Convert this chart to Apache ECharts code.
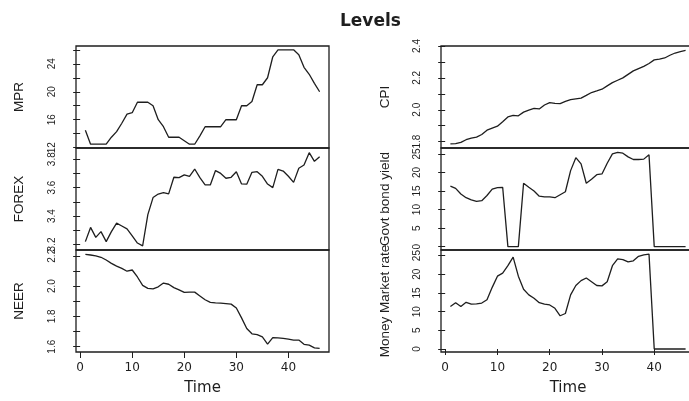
<!DOCTYPE html>
<html>
<head>
<meta charset="utf-8">
<script src="https://cdn.jsdelivr.net/npm/echarts@6/dist/echarts.min.js"></script>
<style>
  html, body { margin: 0; padding: 0; background: #fff; }
  #chart { width: 689px; height: 401px; }
</style>
</head>
<body>
<div id="chart"></div>
<script>
// quarterly index 1..46
const time = [1, 2, 3, 4, 5, 6, 7, 8, 9, 10, 11, 12, 13, 14, 15, 16, 17, 18, 19, 20, 21, 22, 23,
  24, 25, 26, 27, 28, 29, 30, 31, 32, 33, 34, 35, 36, 37, 38, 39, 40, 41, 42, 43, 44, 45, 46];

const mpr = [14.5, 12.5, 12.5, 12.5, 12.5, 13.5, 14.3, 15.5, 16.8, 17, 18.5, 18.5, 18.5, 18, 16, 15,
  13.5, 13.5, 13.5, 13, 12.5, 12.5, 13.7, 15, 15, 15, 15, 16, 16, 16, 18, 18, 18.6, 21, 21, 22,
  25, 26, 26, 26, 26, 25.3, 23.5, 22.5, 21.2, 20];

const forex = [3.22, 3.32, 3.25, 3.29, 3.22, 3.29, 3.35, 3.33, 3.31, 3.26, 3.21, 3.19, 3.41, 3.53,
  3.555, 3.565, 3.556, 3.673, 3.67, 3.69, 3.68, 3.731, 3.67, 3.619, 3.619, 3.72, 3.70, 3.666, 3.673,
  3.712, 3.626, 3.624, 3.708, 3.712, 3.68, 3.625, 3.60, 3.729, 3.717, 3.68, 3.637, 3.736, 3.759,
  3.846, 3.785, 3.818];

const neer = [2.209, 2.205, 2.199, 2.19, 2.172, 2.15, 2.132, 2.117, 2.098, 2.106, 2.06, 2.005, 1.985,
  1.982, 1.995, 2.02, 2.012, 1.99, 1.975, 1.958, 1.96, 1.96, 1.935, 1.91, 1.892, 1.889, 1.887, 1.884,
  1.881, 1.855, 1.79, 1.72, 1.685, 1.68, 1.665, 1.617, 1.66, 1.658, 1.655, 1.65, 1.644, 1.644, 1.616,
  1.61, 1.592, 1.589];

const cpi = [1.786, 1.787, 1.795, 1.812, 1.822, 1.828, 1.845, 1.872, 1.885, 1.897, 1.925, 1.955, 1.965,
  1.962, 1.985, 1.998, 2.008, 2.005, 2.03, 2.045, 2.04, 2.038, 2.052, 2.063, 2.068, 2.073, 2.09, 2.108,
  2.118, 2.129, 2.15, 2.17, 2.185, 2.2, 2.222, 2.244, 2.258, 2.272, 2.29, 2.313, 2.318, 2.325, 2.342,
  2.356, 2.364, 2.372];

const govtBond = [16.3, 15.7, 14.2, 13.2, 12.6, 12.2, 12.4, 13.8, 15.5, 15.9, 16, 0, 0, 0, 17.1, 16,
  15, 13.6, 13.4, 13.4, 13.2, 14, 14.8, 20.5, 24, 22.3, 17.1, 18.2, 19.4, 19.6, 22.5, 25, 25.4, 25.2,
  24.2, 23.5, 23.5, 23.6, 24.8, 0, 0, 0, 0, 0, 0, 0];

const moneyMarket = [11.4, 12.4, 11.4, 12.5, 12, 12.1, 12.3, 13.2, 16.5, 19.5, 20.3, 22.3, 24.6, 19.5,
  16, 14.5, 13.6, 12.4, 12, 11.8, 10.9, 8.9, 9.5, 14.5, 17, 18.3, 19, 18, 17, 16.9, 18, 22.3, 24.1,
  23.9, 23.3, 23.6, 24.8, 25.2, 25.4, 0, 0, 0, 0, 0, 0, 0];

// tick positions and labelled ticks
const xTicks = [0, 10, 20, 30, 40];
const mprTicks = [12, 14, 16, 18, 20, 22, 24, 26];
const mprLabels = [12, 16, 20, 24];
const forexTicks = [3.2, 3.3, 3.4, 3.5, 3.6, 3.7, 3.8];
const forexLabels = [3.2, 3.4, 3.6, 3.8];
const neerTicks = [1.6, 1.7, 1.8, 1.9, 2.0, 2.1, 2.2];
const neerLabels = [1.6, 1.8, 2.0, 2.2];
const cpiTicks = [1.8, 1.9, 2.0, 2.1, 2.2, 2.3, 2.4];
const cpiLabels = [1.8, 2.0, 2.2, 2.4];
const rateTicks = [0, 5, 10, 15, 20, 25];

const ink = '#1e1e1e';

const panels = [
  { name: 'MPR', data: mpr, min: 11.96, max: 26.54, ticks: mprTicks, labels: mprLabels, dec: 0, col: 0, row: 0 },
  { name: 'FOREX', data: forex, min: 3.161, max: 3.879, ticks: forexTicks, labels: forexLabels, dec: 1, col: 0, row: 1 },
  { name: 'NEER', data: neer, min: 1.565, max: 2.238, ticks: neerTicks, labels: neerLabels, dec: 1, col: 0, row: 2 },
  { name: 'CPI', data: cpi, min: 1.76, max: 2.40, ticks: cpiTicks, labels: cpiLabels, dec: 1, col: 1, row: 0 },
  { name: 'Govt bond yield', data: govtBond, min: -0.9, max: 26.6, ticks: rateTicks, labels: rateTicks, dec: 0, col: 1, row: 1 },
  { name: 'Money Market rate', data: moneyMarket, min: -0.8, max: 26.5, ticks: rateTicks, labels: rateTicks, dec: 0, col: 1, row: 2 }
];

const colLeft = [76, 441];
const colWidth = [253, 254];
const rowTop = [46, 148, 250];
const rowHeight = 102;

const grid = [];
const xAxis = [];
const yAxis = [];
const series = [];

panels.forEach((p, i) => {
  const bottom = p.row === 2;
  grid.push({
    left: colLeft[p.col],
    top: rowTop[p.row],
    width: colWidth[p.col],
    height: rowHeight,
    show: true,
    borderColor: ink,
    borderWidth: 1.3,
    backgroundColor: 'transparent',
    containLabel: false,
    outerBoundsMode: 'none'
  });
  xAxis.push({
    type: 'value',
    gridIndex: i,
    min: -0.8,
    max: 47.8,
    show: bottom,
    splitLine: { show: false },
    axisLine: { show: false },
    axisTick: { show: true, length: 6, lineStyle: { color: ink }, customValues: xTicks },
    axisLabel: {
      customValues: xTicks,
      margin: 10,
      color: ink,
      fontFamily: 'DejaVu Sans',
      fontSize: 12
    },
    name: bottom ? 'Time' : '',
    nameLocation: 'middle',
    nameGap: 29,
    nameTextStyle: { fontFamily: 'DejaVu Sans', fontSize: 15, color: ink }
  });
  yAxis.push({
    type: 'value',
    gridIndex: i,
    min: p.min,
    max: p.max,
    splitLine: { show: false },
    axisLine: { show: false },
    axisTick: { show: true, length: 7, lineStyle: { color: ink }, customValues: p.ticks },
    axisLabel: {
      customValues: p.labels,
      rotate: 90,
      margin: 19,
      color: ink,
      fontFamily: 'Liberation Sans',
      fontSize: 10,
      formatter: (v) => Number(v).toFixed(p.dec)
    },
    name: p.name,
    nameLocation: 'middle',
    nameGap: p.col === 0 ? 50 : 49,
    nameRotate: 90,
    nameTextStyle: { fontFamily: 'Liberation Sans', fontSize: 13.5, color: ink }
  });
  series.push({
    type: 'line',
    xAxisIndex: i,
    yAxisIndex: i,
    data: time.map((t, k) => [t, p.data[k]]),
    showSymbol: false,
    lineStyle: { color: ink, width: 1.3 },
    clip: false
  });
});

const option = {
  animation: false,
  backgroundColor: '#fff',
  title: {
    text: 'Levels',
    left: 335,
    top: 8,
    textStyle: { fontFamily: 'DejaVu Sans', fontWeight: 'bold', fontSize: 17, color: ink }
  },
  grid: grid,
  xAxis: xAxis,
  yAxis: yAxis,
  series: series
};

const myChart = echarts.init(document.getElementById('chart'));
myChart.setOption(option);
</script>
</body>
</html>
